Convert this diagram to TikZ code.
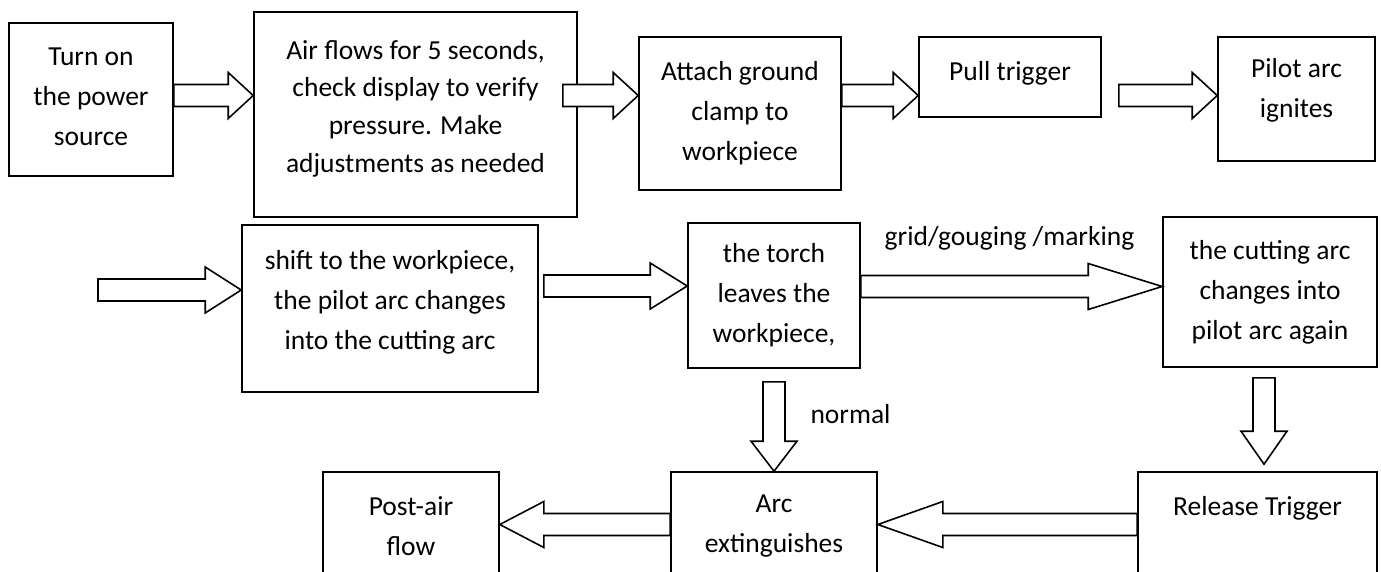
\documentclass[tikz,border=0pt]{standalone}
\usepackage{fontspec}
\setmainfont{Carlito}
\usetikzlibrary{calc}
\tikzset{
  box/.style={draw, line width=1.6pt, align=center, inner sep=0pt},
  barrow/.style={draw, line width=1.6pt, fill=white, to path={
    let \p1=($(\tikztotarget)!#1pt!(\tikztostart)$) in
    ($(\tikztostart)!11pt!90:(\tikztotarget)$) -- ($(\p1)!11pt!90:(\tikztotarget)$)
    -- ($(\p1)!23pt!90:(\tikztotarget)$) -- (\tikztotarget)
    -- ($(\p1)!23pt!-90:(\tikztotarget)$) -- ($(\p1)!11pt!-90:(\tikztotarget)$)
    -- ($(\tikztostart)!11pt!-90:(\tikztotarget)$) -- cycle}}
}

\begin{document}
\begin{tikzpicture}[x=1pt, y=-1pt, font=\fontsize{27.5}{40}\selectfont]
\useasboundingbox (0,0) rectangle (1381,571);
\clip (0,0) rectangle (1381,571);

\node[box, minimum width=164pt, minimum height=153pt, text depth=6pt] (power) at (91,99.5) {Turn on\\the power\\source};
\node[box, minimum width=323pt, minimum height=205pt, text depth=17pt, font=\fontsize{27.5}{37.7}\selectfont] (air) at (415.5,114.5) {Air flows for 5 seconds,\\check display to verify\\pressure. Make\\adjustments as needed};
\node[box, minimum width=202pt, minimum height=153pt] (clamp) at (740,113.5) {Attach ground\\clamp to\\workpiece};
\node[box, minimum width=182pt, minimum height=80pt, text depth=12pt] (pull) at (1010,77) {Pull trigger};
\node[box, minimum width=157pt, minimum height=124pt, text depth=22pt] (pilot) at (1296.5,99) {Pilot arc\\ignites};

\node[box, minimum width=296pt, minimum height=167pt, text depth=18pt] (shift) at (390,308.5) {shift to the workpiece,\\the pilot arc changes\\into the cutting arc};
\node[box, minimum width=172pt, minimum height=145pt] (leave) at (774,295.5) {the torch\\leaves the\\workpiece,};
\node[box, minimum width=214pt, minimum height=150pt] (again) at (1270,292) {the cutting arc\\changes into\\pilot arc again};

\node[box, minimum width=176pt, minimum height=108pt] (post) at (411,526) {Post-air\\flow};
\node[box, minimum width=206pt, minimum height=108pt] (extin) at (774,526) {Arc\\extinguishes};
\node[box, minimum width=239pt, minimum height=108pt, text depth=40pt] (release) at (1257.5,526) {Release Trigger};

\node[anchor=base] (grid) at (1009.5,245) {grid/gouging /marking};
\node[anchor=base west] (normal) at (807,423) {normal};

\coordinate (start) at (98,290);

\draw[barrow=25] (power.east |- 0,95.5) to (air.west |- 0,95.5);
\draw[barrow=25] ($(air.east |- 0,95.5)+(-15,0)$) to (clamp.west |- 0,95.5);
\draw[barrow=25] (clamp.east |- 0,95.5) to (pull.west |- 0,95.5);
\draw[barrow=25] ($(pull.east |- 0,95.5)+(17,0)$) to (pilot.west |- 0,95.5);
\draw[barrow=36] (start) to (shift.west |- start);
\draw[barrow=37] ($(shift.east |- 0,286)+(5,0)$) to (leave.west |- 0,286);
\draw[barrow=74] (leave.east |- 0,286.5) to (again.west |- 0,286.5);
\draw[barrow=33] ($(again.south -| 1264,0)+(0,10)$) to ($(release.north -| 1264,0)+(0,-7)$);
\draw[barrow=30] ($(leave.south)+(0,13)$) to (extin.north);
\draw[barrow=65] (release.west |- 0,524.5) to (extin.east |- 0,524.5);
\draw[barrow=44] (extin.west |- 0,524.5) to (post.east |- 0,524.5);
\end{tikzpicture}
\end{document}
